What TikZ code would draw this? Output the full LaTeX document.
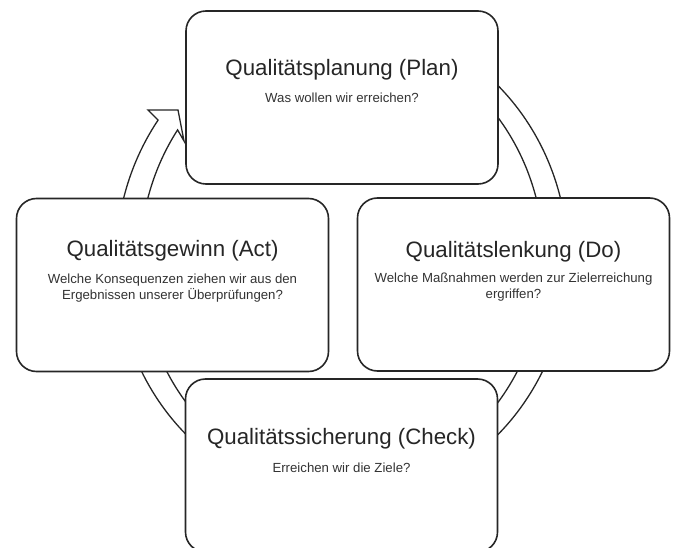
\documentclass[tikz,border=0pt]{standalone}
\usepackage{fontspec}
\setmainfont{Liberation Sans}
\tikzstyle{phase}=[draw=black!85, line width=1.6pt, rounded corners=20pt, fill=white,
    minimum width=312pt, minimum height=173pt, inner sep=0pt]
\tikzstyle{phasetitle}=[anchor=base, inner sep=0pt, text=black!85,
    font=\fontsize{22.3}{26}\selectfont]
\tikzstyle{phasetext}=[anchor=base, inner sep=0pt, align=center, text=black!80,
    font=\fontsize{13.2}{16}\selectfont]
\tikzstyle{ring}=[draw=black!85, line width=1.3pt, fill=white, line join=miter]

\begin{document}
\begin{tikzpicture}[x=1pt, y=-1pt]
    \useasboundingbox (0,0) rectangle (674,548);
% Cycle arrow behind the phases
    \draw[ring] (302.8,22.7) arc[start angle=-100, end angle=215.5, x radius=226, y radius=241]
        -- (148,110) -- (178,110) -- (184,141) -- (177.6,129.9)
        arc[start angle=215.5, end angle=-100, x radius=202, y radius=224] -- cycle;
% Phases
    \node[phase] (plan) at (342,97.5) {};
    \node[phase] (act) at (172.5,285) {};
    \node[phase] (do) at (513.5,284.5) {};
    \node[phase] (check) at (341.5,465.5) {};
% Titles
    \node[phasetitle] (plantitle) at ([yshift=-65pt]plan.north) {Qualitätsplanung (Plan)};
    \node[phasetitle] (acttitle) at ([yshift=-59pt]act.north) {Qualitätsgewinn (Act)};
    \node[phasetitle] (dotitle) at ([yshift=-60pt]do.north) {Qualitätslenkung (Do)};
    \node[phasetitle] (checktitle) at ([yshift=-66pt]check.north) {Qualitätssicherung (Check)};
% Questions (two-line ones sit on their last line)
    \node[phasetext] (plantext) at ([yshift=-92pt]plan.north) {Was wollen wir erreichen?};
    \node[phasetext] (acttext) at ([yshift=-102pt]act.north)
        {Welche Konsequenzen ziehen wir aus den\\Ergebnissen unserer Überprüfungen?};
    \node[phasetext] (dotext) at ([yshift=-101pt]do.north)
        {Welche Maßnahmen werden zur Zielerreichung\\ergriffen?};
    \node[phasetext] (checktext) at ([yshift=-94pt]check.north) {Erreichen wir die Ziele?};
\end{tikzpicture}
\end{document}
